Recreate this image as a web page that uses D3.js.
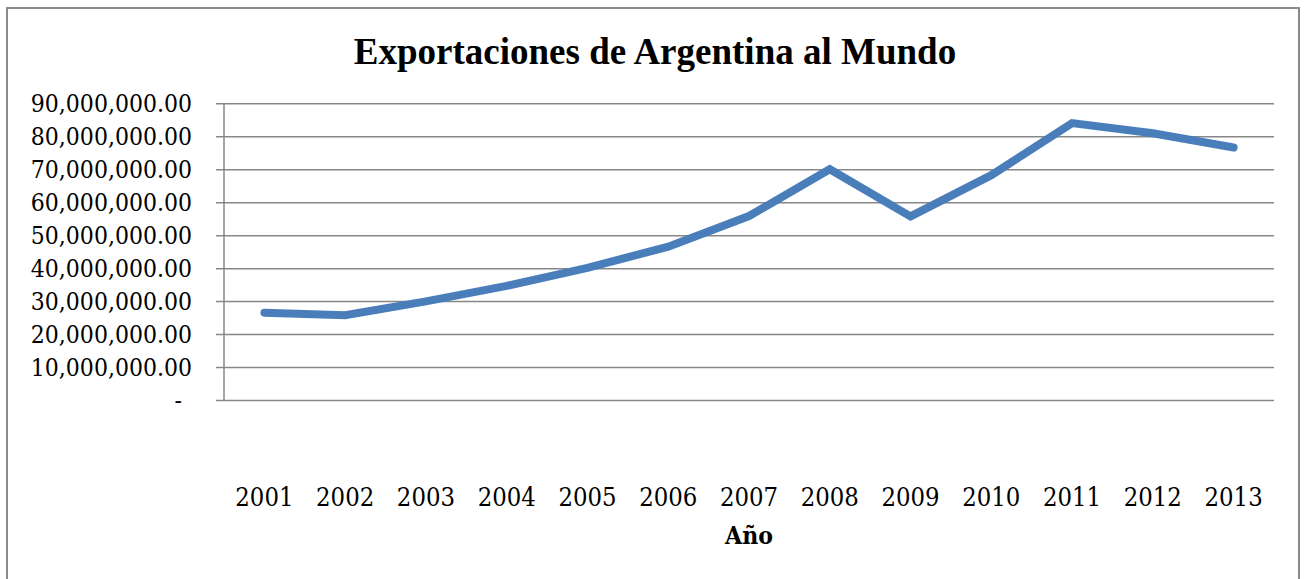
<!DOCTYPE html>
<html>
<head>
<meta charset="utf-8">
<script src="https://cdn.jsdelivr.net/npm/d3@7"></script>
<style>
  body { margin: 0; background: #fff; }
  svg { display: block; }
</style>
</head>
<body>
<script>
//Chart data: exports of Argentina
var years = ["2001", "2002", "2003", "2004", "2005", "2006", "2007",
             "2008", "2009", "2010", "2011", "2012", "2013"];
var exportsValues = [26500000, 25700000, 29900000, 34600000, 40100000, 46500000, 55800000,
                     70000000, 55700000, 68200000, 84000000, 80900000, 76600000];
var yTicks = [0, 10000000, 20000000, 30000000, 40000000, 50000000, 60000000,
              70000000, 80000000, 90000000];

//Dimensions
var width = 1305,
    height = 579,
    plot = {left: 224, right: 1274, top: 103.3, bottom: 400};

var labelFont = "'DejaVu Serif Condensed', 'DejaVu Serif', serif";

//Create the svg
const svg = d3.select("body")
    .append("svg")
    .attr("width", width)
    .attr("height", height);

//Outer border of the chart
svg.append("rect")
    .attr("x", 7)
    .attr("y", 8)
    .attr("width", 1292)
    .attr("height", 600)
    .attr("fill", "none")
    .attr("stroke", "#8a8a8a")
    .attr("stroke-width", 2);

//Title
svg.append("text")
    .attr("x", 655)
    .attr("y", 64)
    .attr("text-anchor", "middle")
    .attr("font-family", "'Liberation Serif', 'Times New Roman', serif")
    .attr("font-weight", "bold")
    .attr("font-size", 37)
    .attr("fill", "#000")
    .text("Exportaciones de Argentina al Mundo");

//Scales
const x = d3.scaleBand()
    .domain(years)
    .range([plot.left, plot.right]);

const y = d3.scaleLinear()
    .domain([0, 90000000])
    .range([plot.bottom, plot.top]);

//Y axis with gridlines
const fmt = d3.format(",.2f");
const yAxis = svg.append("g")
    .attr("transform", `translate(${plot.left},0)`)
    .call(d3.axisLeft(y)
        .tickValues(yTicks)
        .tickSize(-(plot.right - plot.left))
        .tickPadding(0)
        .tickFormat(d => d === 0 ? "-" : fmt(d)));

yAxis.select(".domain").remove();
yAxis.selectAll(".tick line")
    .attr("x1", -8)
    .attr("stroke", "#878787")
    .attr("stroke-width", 1.5);
yAxis.selectAll(".tick text")
    .attr("x", -32)
    .attr("dy", "0.35em")
    .attr("font-family", labelFont)
    .attr("font-size", 24.5)
    .attr("fill", "#000");
yAxis.selectAll(".tick text")
    .filter(d => d === 0)
    .attr("x", -42);

//Vertical axis line
svg.append("line")
    .attr("x1", plot.left).attr("x2", plot.left)
    .attr("y1", y(90000000)).attr("y2", y(0))
    .attr("stroke", "#878787")
    .attr("stroke-width", 1.5);

//X axis labels
const xAxis = svg.append("g")
    .attr("transform", `translate(0,${plot.bottom})`)
    .call(d3.axisBottom(x).tickSize(0).tickPadding(0));

xAxis.select(".domain").remove();
xAxis.selectAll(".tick text")
    .attr("y", 106)
    .attr("dy", 0)
    .attr("font-family", labelFont)
    .attr("font-size", 25.4)
    .attr("fill", "#000");

//X axis title
svg.append("text")
    .attr("x", (plot.left + plot.right) / 2)
    .attr("y", 544)
    .attr("text-anchor", "middle")
    .attr("font-family", labelFont)
    .attr("font-weight", "bold")
    .attr("font-size", 24.5)
    .attr("fill", "#000")
    .text("Año");

//The line
const line = d3.line()
    .x((d, i) => x(years[i]) + x.bandwidth() / 2)
    .y(d => y(d));

svg.append("path")
    .datum(exportsValues)
    .attr("fill", "none")
    .attr("stroke", "#4a7ebb")
    .attr("stroke-width", 8)
    .attr("stroke-linecap", "round")
    .attr("stroke-linejoin", "miter")
    .attr("d", line);
</script>
</body>
</html>
